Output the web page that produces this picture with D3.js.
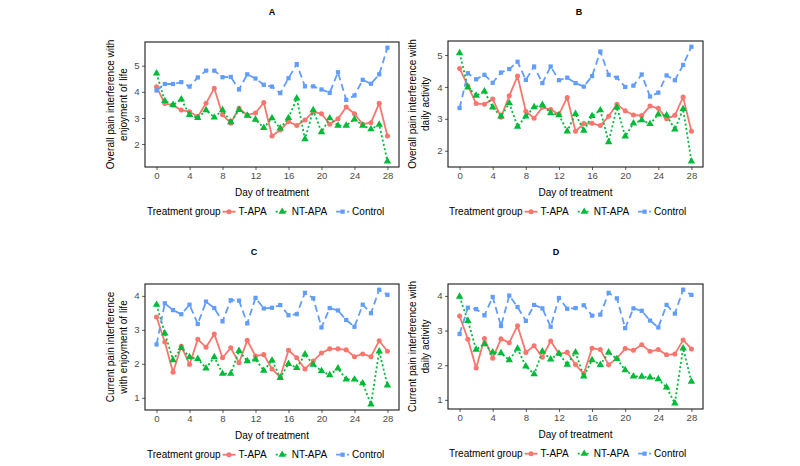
<!DOCTYPE html>
<html><head><meta charset="utf-8">
<script src="https://cdn.jsdelivr.net/npm/d3@7"></script>
<style>body{margin:0;background:#fff}svg{display:block;font-family:"Liberation Sans",Arial,sans-serif}</style>
</head><body><svg id="c" width="800" height="466"></svg>
<script>
const days = [0,1,2,3,4,5,6,7,8,9,10,11,12,13,14,15,16,17,18,19,20,21,22,23,24,25,26,27,28];
const groups = ["T-APA","NT-APA","Control"];
const xTicks = [0,4,8,12,16,20,24,28];
const yTicksTop = [2,3,4,5];
const yTicksBottom = [1,2,3,4];

const aTAPA = [4.19,3.55,3.49,3.30,3.24,3.05,3.56,4.14,3.12,2.80,3.37,3.11,3.19,3.59,2.31,2.54,2.86,2.71,2.92,3.24,3.16,2.76,2.97,3.42,3.16,2.76,2.82,3.56,2.31];
const aNTAPA = [4.71,3.65,3.50,3.71,3.12,3.00,3.30,3.02,3.30,2.84,3.31,3.09,2.94,2.62,2.99,2.60,3.00,3.75,2.19,3.30,2.46,2.99,2.71,2.71,2.95,2.71,2.57,2.75,1.34];
const aControl = [4.05,4.30,4.30,4.37,4.20,4.55,4.81,4.81,4.56,4.57,4.09,4.67,4.51,4.27,4.20,3.95,4.52,5.06,4.21,4.21,4.09,3.96,4.75,3.69,3.86,4.46,4.31,4.67,5.69];

const bTAPA = [4.58,4.03,3.48,3.46,3.62,3.05,3.72,4.34,3.24,3.02,3.36,3.29,3.14,3.67,2.61,2.85,2.86,2.79,3.08,3.46,3.25,3.12,3.10,3.40,3.33,3.00,3.11,3.68,2.61];
const bNTAPA = [5.06,3.99,3.73,3.86,3.36,3.08,3.49,2.76,3.08,3.37,3.44,3.18,3.12,2.61,3.16,2.63,3.09,3.27,2.27,3.36,2.45,2.86,2.96,2.84,3.14,3.11,2.67,3.31,1.67];
const bControl = [3.34,4.43,4.24,4.38,4.13,4.45,4.56,4.79,4.22,4.64,4.12,4.64,4.21,4.29,4.12,4.01,4.34,5.11,4.38,4.29,4.00,4.04,4.39,3.70,3.82,4.36,4.21,4.69,5.26];

const cTAPA = [3.38,2.64,1.75,2.52,1.98,2.72,2.49,2.88,2.18,2.47,2.03,2.69,2.23,2.27,1.85,1.61,2.40,2.18,1.85,2.08,2.32,2.44,2.44,2.41,2.21,2.29,2.21,2.68,2.37];
const cNTAPA = [3.74,2.90,2.11,2.47,2.20,2.15,1.87,2.20,1.71,1.71,2.38,2.08,2.13,1.80,2.10,1.59,2.00,1.88,2.28,1.98,1.79,1.67,1.87,1.54,1.54,1.43,0.81,2.37,1.37];
const cControl = [2.57,3.78,3.58,3.46,3.74,3.17,3.83,3.64,3.25,3.87,3.86,3.19,3.94,3.63,3.65,3.73,3.43,3.46,4.09,3.93,3.07,3.64,3.57,3.29,3.09,3.74,3.49,4.18,4.03];

const dTAPA = [3.42,2.75,1.92,2.77,2.20,2.76,2.65,3.14,2.37,2.56,2.23,2.70,2.33,2.37,2.02,1.75,2.49,2.45,2.01,2.20,2.48,2.43,2.59,2.40,2.45,2.30,2.32,2.73,2.47];
const dNTAPA = [3.98,3.28,2.45,2.61,2.37,2.35,2.15,2.48,1.97,1.74,2.40,2.17,2.34,2.02,2.37,1.68,2.15,2.01,2.37,2.18,1.86,1.68,1.67,1.65,1.60,1.36,0.90,2.49,1.53];
const dControl = [2.90,3.66,3.62,3.44,3.97,3.13,4.01,3.68,3.28,3.74,3.64,3.11,3.94,3.63,3.65,3.73,3.43,3.46,4.09,3.93,3.07,3.64,3.57,3.29,3.09,3.74,3.49,4.18,4.03];

const titles = ["A","B","C","D"];
const yLabels = [
  ["Overall pain interference with","enjoyment of life"],
  ["Overall pain interference with","daily activity"],
  ["Current pain interference","with enjoyment of life"],
  ["Current pain interference with","daily activity"]
];
const xLabel = "Day of treatment";
const legendTitle = "Treatment group";

// ---- styles / layout ----
const colors = {"T-APA":"#F8766D","NT-APA":"#00BA38","Control":"#619CFF"};
const dashes = {"T-APA":null,"NT-APA":"2,2.4","Control":"7,4"};
const shapes = {"T-APA":d3.symbolCircle,"NT-APA":d3.symbolTriangle,"Control":d3.symbolSquare};
const shapeSize = {"T-APA":20,"NT-APA":24,"Control":18};

const panelData = [
  [aTAPA,aNTAPA,aControl],[bTAPA,bNTAPA,bControl],[cTAPA,cNTAPA,cControl],[dTAPA,dNTAPA,dControl]
];
const layout = [
  {l:145,r:399,t:42,b:167,tx:272,ty:15,ylx:[110,123],legX:147,yt:yTicksTop},
  {l:448,r:703,t:41,b:167,tx:579,ty:15,ylx:[412,425],legX:449,yt:yTicksTop},
  {l:145,r:399,t:284,b:410,tx:254,ty:255,ylx:[110,123],legX:147,yt:yTicksBottom},
  {l:448,r:703,t:284,b:409,tx:556,ty:255,ylx:[412,425],legX:449,yt:yTicksBottom}
];

const svg = d3.select("#c");
const grey = "#4D4D4D";

layout.forEach((L,i)=>{
  const data = panelData[i];
  const all = data.flat();
  const mn = d3.min(all), mx = d3.max(all), ex = (mx-mn)*0.05;
  const y = d3.scaleLinear().domain([mn-ex,mx+ex]).range([L.b,L.t]);
  const xe = (28-0)*0.05;
  const x = d3.scaleLinear().domain([0-xe,28+xe]).range([L.l,L.r]);
  const g = svg.append("g");

  const xa = g.append("g").attr("transform",`translate(0,${L.b})`)
    .call(d3.axisBottom(x).tickValues(xTicks).tickSize(3).tickPadding(2.5).tickFormat(d3.format("d")));
  xa.select(".domain").remove();
  xa.selectAll("line").attr("stroke","#333").attr("stroke-width",0.8);
  xa.selectAll("text").attr("fill",grey).attr("font-size",9.6).attr("font-family","Liberation Sans, Arial, sans-serif");
  const ya = g.append("g").attr("transform",`translate(${L.l},0)`)
    .call(d3.axisLeft(y).tickValues(L.yt).tickSize(3).tickPadding(2.5).tickFormat(d3.format("d")));
  ya.select(".domain").remove();
  ya.selectAll("line").attr("stroke","#333").attr("stroke-width",0.8);
  ya.selectAll("text").attr("fill",grey).attr("font-size",9.6).attr("font-family","Liberation Sans, Arial, sans-serif");

  groups.forEach((gr,k)=>{
    const vals = data[k];
    const line = d3.line().x((d,j)=>x(days[j])).y(d=>y(d));
    g.append("path").datum(vals).attr("d",line).attr("fill","none")
      .attr("stroke",colors[gr]).attr("stroke-width",1.8)
      .attr("stroke-dasharray",dashes[gr]).attr("stroke-linejoin","round");
    g.selectAll(null).data(vals).enter().append("path")
      .attr("d",d3.symbol().type(shapes[gr]).size(shapeSize[gr]))
      .attr("transform",(d,j)=>`translate(${x(days[j])},${y(d)})`)
      .attr("fill",colors[gr]);
  });

  g.append("rect").attr("x",L.l).attr("y",L.t).attr("width",L.r-L.l).attr("height",L.b-L.t)
    .attr("fill","none").attr("stroke","#1a1a1a").attr("stroke-width",1.1);

  g.append("text").attr("x",L.tx).attr("y",L.ty).attr("text-anchor","middle")
    .attr("font-size",9).attr("font-weight","bold").text(titles[i]);

  const cy = (L.t+L.b)/2;
  yLabels[i].forEach((s,j)=>{
    g.append("text").attr("transform",`translate(${L.ylx[j]+3.5},${cy}) rotate(-90)`)
      .attr("text-anchor","middle").attr("font-size",10).attr("fill","#000").text(s);
  });

  g.append("text").attr("x",(L.l+L.r)/2).attr("y",L.b+28.5).attr("text-anchor","middle")
    .attr("font-size",10).text(xLabel);

  const ly = L.b+44.7;
  let cx = L.legX;
  const lt = g.append("text").attr("x",cx).attr("y",ly+3.5).attr("font-size",10).text(legendTitle);
  cx += lt.node().getComputedTextLength() + 2;
  groups.forEach(gr=>{
    g.append("line").attr("x1",cx).attr("x2",cx+13).attr("y1",ly).attr("y2",ly)
      .attr("stroke",colors[gr]).attr("stroke-width",1.8).attr("stroke-dasharray",dashes[gr]);
    g.append("path").attr("d",d3.symbol().type(shapes[gr]).size(shapeSize[gr]))
      .attr("transform",`translate(${cx+6.5},${ly})`).attr("fill",colors[gr]);
    cx += 16;
    const t = g.append("text").attr("x",cx).attr("y",ly+3.5).attr("font-size",10).text(gr);
    cx += t.node().getComputedTextLength() + 9;
  });
});
</script></body></html>
